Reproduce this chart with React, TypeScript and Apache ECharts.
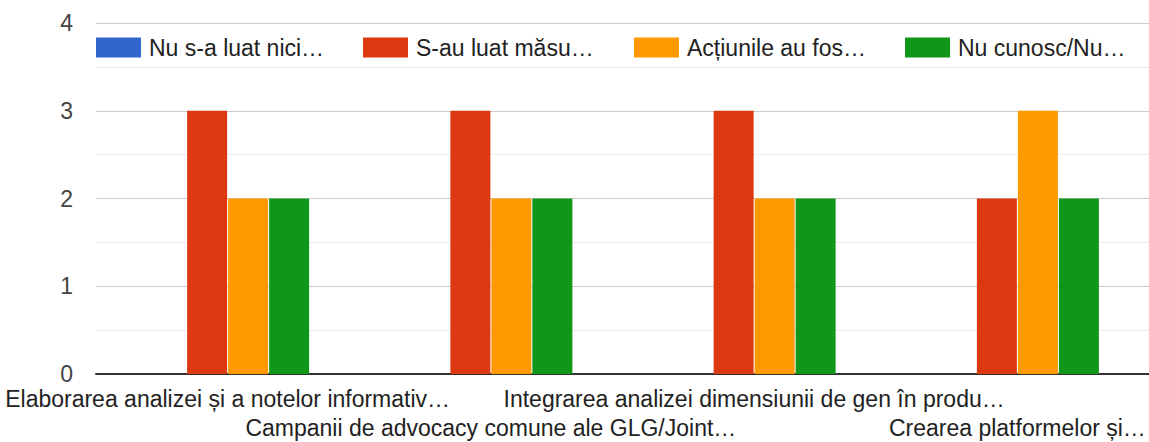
import React, { useEffect, useRef } from "react";
import * as echarts from "echarts";

const categories = [
  "Elaborarea analizei și a notelor informativ…",
  "Campanii de advocacy comune ale GLG/Joint…",
  "Integrarea analizei dimensiunii de gen în produ…",
  "Crearea platformelor și…",
];
const seriesNames = [
  "Nu s-a luat nici…",
  "S-au luat măsu…",
  "Acțiunile au fos…",
  "Nu cunosc/Nu…",
];
const blueValues = [0, 0, 0, 0];
const redValues = [3, 3, 3, 2];
const orangeValues = [2, 2, 2, 3];
const greenValues = [2, 2, 2, 2];
const yTicks = [0, 1, 2, 3, 4];

const colors = ["#3366cc", "#dc3912", "#ff9900", "#109618"];
const legendLefts = [96, 363, 634, 905];
const FONT = "Arial, 'Liberation Sans', sans-serif";

export default function App() {
  const ref = useRef<HTMLDivElement>(null);
  useEffect(() => {
    document.body.style.margin = "0";
    const chart = echarts.init(ref.current!, null, { renderer: "svg" });
    const values = [blueValues, redValues, orangeValues, greenValues];
    chart.setOption({
      animation: false,
      backgroundColor: "#fff",
      textStyle: { fontFamily: FONT },
      grid: { left: 96, right: -6, top: 23, bottom: 61, containLabel: false },
      legend: seriesNames.map((n, i) => ({
        data: [n],
        left: legendLefts[i],
        top: 36,
        padding: 0,
        itemWidth: 45,
        itemHeight: 20,
        icon: "rect",
        selectedMode: false,
        textStyle: { fontSize: 23, color: "#222", fontFamily: FONT, padding: [0, 0, 0, 3] },
      })),
      xAxis: {
        type: "category",
        data: categories,
        axisTick: { show: false },
        axisLine: { show: true, lineStyle: { color: "#333", width: 2 } },
        axisLabel: {
          interval: 0,
          margin: 10,
          fontSize: 23,
          lineHeight: 29,
          color: "#222",
          fontFamily: FONT,
          verticalAlign: "top",
          formatter: (v: string, idx: number) => (idx % 2 === 1 ? "\n" + v : v),
        },
      },
      yAxis: {
        type: "value",
        min: yTicks[0],
        max: yTicks[yTicks.length - 1],
        interval: 1,
        axisLine: { show: false },
        axisTick: { show: false },
        axisLabel: { fontSize: 23, lineHeight: 20, color: "#444", margin: 23, fontFamily: FONT },
        splitLine: { show: true, lineStyle: { color: "#cccccc", width: 1 } },
        minorTick: { show: false, splitNumber: 2 },
        minorSplitLine: { show: true, lineStyle: { color: "#ebebeb", width: 1 } },
      },
      series: seriesNames.map((n, i) => ({
        name: n,
        type: "bar",
        data: values[i],
        barWidth: 40,
        barGap: "2.5%",
        itemStyle: { color: colors[i] },
      })),
    });
    return () => chart.dispose();
  }, []);
  return (
    <div
      ref={ref}
      style={{ position: "absolute", left: 0, top: 0, width: 1149, height: 442 }}
    />
  );
}
